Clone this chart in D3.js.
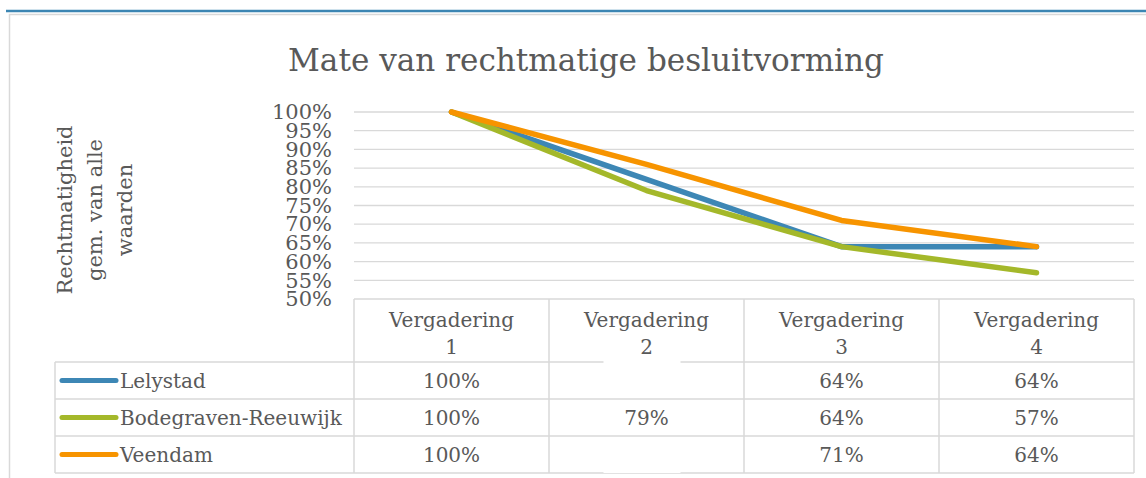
<!DOCTYPE html>
<html>
<head>
<meta charset="utf-8">
<script src="https://cdn.jsdelivr.net/npm/d3@7"></script>
<style>
  body { margin: 0; background: #fff; }
  text { font-family: "DejaVu Serif", serif; fill: #595959; }
</style>
</head>
<body>
<div id="wrapper"></div>
<script>
// data
const meetings = ["Vergadering 1", "Vergadering 2", "Vergadering 3", "Vergadering 4"]
const seriesNames = ["Lelystad", "Bodegraven-Reeuwijk", "Veendam"]
const lelystad = [100, 82, 64, 64]
const bodegraven = [100, 79, 64, 57]
const veendam = [100, 86, 71, 64]
// values that are blanked out in the data table of the original
const lelystadShown = [true, false, true, true]
const bodegravenShown = [true, true, true, true]
const veendamShown = [true, false, true, true]
const yTicks = [50, 55, 60, 65, 70, 75, 80, 85, 90, 95, 100]
const colors = ["#3d87b5", "#a4b82a", "#f79400"]

const series = seriesNames.map((name, i) => ({
  name,
  values: [lelystad, bodegraven, veendam][i],
  shown: [lelystadShown, bodegravenShown, veendamShown][i],
  color: colors[i],
}))

// dimensions
let dimensions = {
  width: 1146,
  height: 478,
  plotLeft: 354,
  plotRight: 1134,
  plotTop: 112,
  plotBottom: 299,
  headerHeight: 63,
  rowHeight: 37,
  legendLeft: 55,
}

const svg = d3.select("#wrapper")
  .append("svg")
  .attr("width", dimensions.width)
  .attr("height", dimensions.height)

// frame
svg.append("line")
  .attr("x1", 6).attr("x2", dimensions.width)
  .attr("y1", 11).attr("y2", 11)
  .attr("stroke", "#3c86b3")
  .attr("stroke-width", 2.5)

svg.append("rect")
  .attr("x", 9.5).attr("y", 14.5)
  .attr("width", dimensions.width + 10)
  .attr("height", dimensions.height + 10)
  .attr("fill", "none")
  .attr("stroke", "#d9d9d9")
  .attr("stroke-width", 1.5)

// scales
const xScale = d3.scaleBand()
  .domain(meetings)
  .range([dimensions.plotLeft, dimensions.plotRight])

const yScale = d3.scaleLinear()
  .domain([50, 100])
  .range([dimensions.plotBottom, dimensions.plotTop])

const xCenter = m => xScale(m) + xScale.bandwidth() / 2

// title
const title = svg.append("text")
  .attr("x", 586)
  .attr("y", 71)
  .attr("text-anchor", "middle")
  .style("font-size", "30px")
  .text("Mate van rechtmatige besluitvorming")
const titleLen = title.node().getComputedTextLength()
title.style("font-size", `${30 * 596 / titleLen}px`)

// gridlines
svg.append("g")
  .selectAll("line")
  .data(yTicks.filter(d => d > 50))
  .join("line")
  .attr("x1", dimensions.plotLeft)
  .attr("x2", dimensions.plotRight)
  .attr("y1", d => yScale(d))
  .attr("y2", d => yScale(d))
  .attr("stroke", "#d9d9d9")
  .attr("stroke-width", 1.3)

// y axis
const yAxisGenerator = d3.axisLeft(yScale)
  .tickValues(yTicks)
  .tickFormat(d => d + "%")
  .tickSize(0)
  .tickPadding(22)

const yAxis = svg.append("g")
  .attr("transform", `translate(${dimensions.plotLeft}, 0)`)
  .call(yAxisGenerator)
yAxis.select(".domain").remove()
yAxis.selectAll("text")
  .style("font-size", "21px")
  .style("font-family", "DejaVu Serif, serif")
  .attr("fill", "#595959")

// y axis title
const yTitle = svg.append("text")
  .attr("transform", "translate(72, 210) rotate(-90)")
  .attr("text-anchor", "middle")
  .style("font-size", "21px")
yTitle.selectAll("tspan")
  .data(["Rechtmatigheid", "gem. van alle", "waarden"])
  .join("tspan")
  .attr("x", 0)
  .attr("dy", (d, i) => i === 0 ? 0 : 30)
  .text(d => d)

// lines
const lineGenerator = d3.line()
  .x((d, i) => xCenter(meetings[i]))
  .y(d => yScale(d))

svg.append("g")
  .selectAll("path")
  .data(series)
  .join("path")
  .attr("d", d => lineGenerator(d.values))
  .attr("fill", "none")
  .attr("stroke", d => d.color)
  .attr("stroke-width", 5.5)
  .attr("stroke-linejoin", "round")
  .attr("stroke-linecap", "round")

// data table
const table = svg.append("g")
const tableTop = dimensions.plotBottom
const headerBottom = tableTop + dimensions.headerHeight
const rowY = i => headerBottom + i * dimensions.rowHeight
const tableBottom = rowY(series.length)
const gridColor = "#d9d9d9"

// horizontal lines
table.append("line")
  .attr("x1", dimensions.plotLeft).attr("x2", dimensions.plotRight)
  .attr("y1", tableTop).attr("y2", tableTop)
  .attr("stroke", gridColor).attr("stroke-width", 1.5)
table.selectAll(".hrow")
  .data(d3.range(series.length + 1))
  .join("line")
  .attr("class", "hrow")
  .attr("x1", dimensions.legendLeft).attr("x2", dimensions.plotRight)
  .attr("y1", d => rowY(d)).attr("y2", d => rowY(d))
  .attr("stroke", gridColor).attr("stroke-width", 1.5)

// vertical lines
const colEdges = meetings.map(m => xScale(m)).concat([dimensions.plotRight])
table.selectAll(".vcol")
  .data(colEdges)
  .join("line")
  .attr("class", "vcol")
  .attr("x1", d => d).attr("x2", d => d)
  .attr("y1", tableTop).attr("y2", tableBottom)
  .attr("stroke", gridColor).attr("stroke-width", 1.5)
table.append("line")
  .attr("x1", dimensions.legendLeft).attr("x2", dimensions.legendLeft)
  .attr("y1", headerBottom).attr("y2", tableBottom)
  .attr("stroke", gridColor).attr("stroke-width", 1.5)

// header
table.selectAll(".header")
  .data(meetings)
  .join("text")
  .attr("class", "header")
  .attr("text-anchor", "middle")
  .style("font-size", "20px")
  .each(function (d) {
    const parts = d.split(" ")
    d3.select(this).selectAll("tspan")
      .data(parts)
      .join("tspan")
      .attr("x", xCenter(d))
      .attr("y", (p, i) => tableTop + 28 + i * 27)
      .text(p => p)
  })

// rows
const rows = table.selectAll(".row")
  .data(series)
  .join("g")
  .attr("class", "row")
  .attr("transform", (d, i) => `translate(0, ${rowY(i)})`)

rows.append("line")
  .attr("x1", 62).attr("x2", 116)
  .attr("y1", dimensions.rowHeight / 2).attr("y2", dimensions.rowHeight / 2)
  .attr("stroke", d => d.color)
  .attr("stroke-width", 5)
  .attr("stroke-linecap", "round")

rows.append("text")
  .attr("x", 120)
  .attr("y", dimensions.rowHeight / 2 + 7)
  .style("font-size", "20px")
  .text(d => d.name)

// blanked cells in the original are painted over in white
rows.each(function (s, si) {
  const row = d3.select(this)
  meetings.forEach((m, i) => {
    if (!s.shown[i]) {
      const off = si === 0 ? -1 : 2
      row.append("rect")
        .attr("x", xCenter(m) - 43)
        .attr("y", off)
        .attr("width", 77)
        .attr("height", dimensions.rowHeight - 2)
        .attr("fill", "#fff")
    }
  })
})

rows.selectAll(".val")
  .data(s => s.values.map((v, i) => ({ v, i, shown: s.shown[i] })).filter(d => d.shown))
  .join("text")
  .attr("class", "val")
  .attr("x", d => xCenter(meetings[d.i]))
  .attr("y", dimensions.rowHeight / 2 + 7)
  .attr("text-anchor", "middle")
  .style("font-size", "20px")
  .text(d => d.v + "%")
</script>
</body>
</html>
